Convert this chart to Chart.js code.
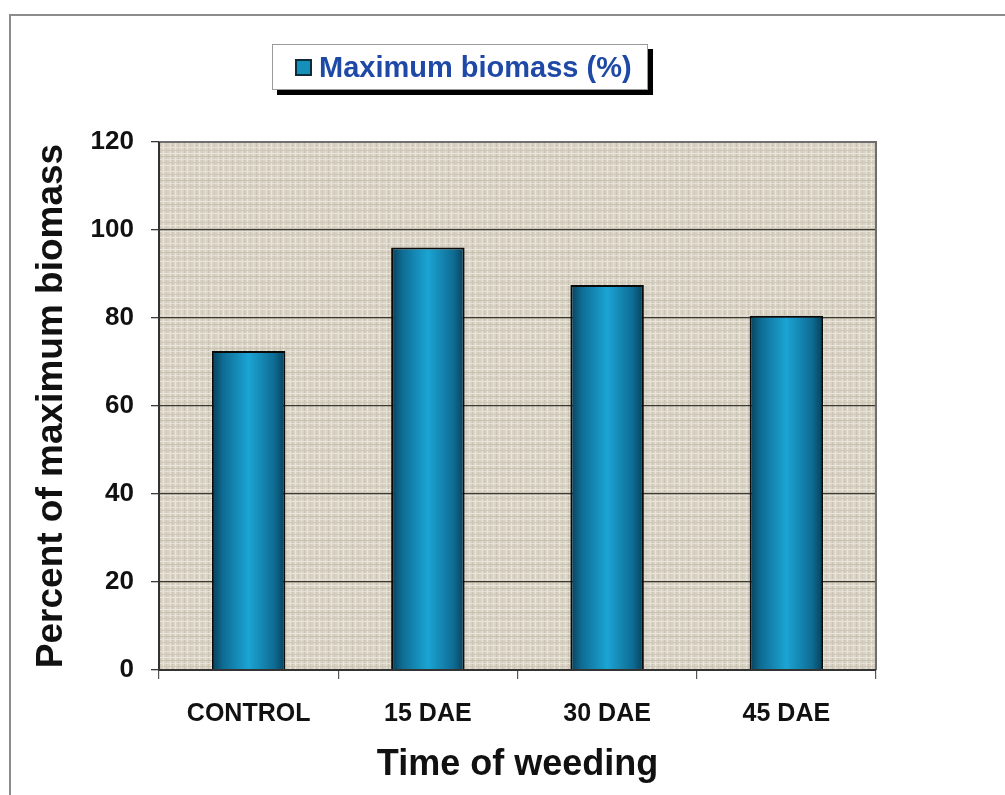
<!DOCTYPE html>
<html>
<head>
<meta charset="utf-8">
<script src="https://cdn.jsdelivr.net/npm/chart.js@4.4.1/dist/chart.umd.min.js"></script>
<style>
  html, body { margin: 0; padding: 0; background: #ffffff; }
  #wrap { position: relative; width: 1005px; height: 795px; overflow: hidden; }
  #frame { position: absolute; left: 9px; top: 14px; width: 1000px; height: 790px;
           border-left: 2px solid #8c8c8c; border-top: 2px solid #8c8c8c; }
  canvas { position: absolute; left: 0; top: 0; }
  #legend { position: absolute; left: 272px; top: 44px; width: 376px; height: 46px;
            background: #ffffff; border: 1px solid #9a9a9a; box-shadow: 5px 5px 0 #000000;
            font-family: "Liberation Sans", Arial, sans-serif; font-weight: bold; font-size: 29px;
            color: #1f49a6; display: flex; align-items: center; box-sizing: border-box; padding-left: 22px; }
  #legend .sw { width: 17px; height: 17px; background: #1490bb; border: 2px solid #0d2c3a;
                box-sizing: border-box; margin-right: 7px; }
</style>
</head>
<body>
<div id="wrap">
  <div id="frame"></div>
  <canvas id="c" width="1005" height="795"></canvas>
  <div id="legend"><span class="sw"></span><span id="legtext"></span></div>
</div>
<script>
const categories = ["CONTROL", "15 DAE", "30 DAE", "45 DAE"];
const seriesLabel = "Maximum biomass (%)";
const biomassValues = [72.5, 96, 87.5, 80.5];
const yTicks = [0, 20, 40, 60, 80, 100, 120];
const xTitle = "Time of weeding";
const yTitle = "Percent of maximum biomass";

document.getElementById('legtext').textContent = seriesLabel;

const FONT = '"Liberation Sans", Arial, sans-serif';
const CAT_PCT = 0.82, BAR_PCT = 0.5;

// textured plot background
function makeTexture(ctx) {
  const t = document.createElement('canvas');
  t.width = 24; t.height = 24;
  const g = t.getContext('2d');
  g.fillStyle = '#d9d3c6'; g.fillRect(0, 0, 24, 24);
  const light = ['#e6e1d6', '#eae6dc'], dark = ['#c9c2b2', '#cfc8b9'];
  [[2,0],[7,1],[13,0],[19,1]].forEach(([x,k]) => { g.fillStyle = light[k]; g.fillRect(x, 0, 1, 24); });
  [[4,0],[10,1],[16,0],[22,1]].forEach(([x,k]) => { g.fillStyle = dark[k]; g.fillRect(x, 0, 1, 24); });
  [[3,0],[9,1],[15,0],[21,1]].forEach(([y,k]) => { g.fillStyle = light[k]; g.fillRect(0, y, 24, 1); });
  [[6,1],[12,0],[18,1]].forEach(([y,k]) => { g.fillStyle = dark[k]; g.fillRect(0, y, 24, 1); });
  return ctx.createPattern(t, 'repeat');
}

const plotBg = {
  id: 'plotBg',
  beforeDraw(chart) {
    const { ctx, chartArea: a } = chart;
    ctx.save();
    ctx.fillStyle = makeTexture(ctx);
    ctx.fillRect(a.left, a.top, a.right - a.left, a.bottom - a.top);
    ctx.restore();
  },
  afterDraw(chart) {
    const { ctx, chartArea: a } = chart;
    ctx.save();
    ctx.strokeStyle = '#6e6e6e';
    ctx.lineWidth = 2;
    ctx.beginPath();
    ctx.moveTo(a.left, a.top); ctx.lineTo(a.right, a.top); ctx.lineTo(a.right, a.bottom);
    ctx.stroke();
    ctx.strokeStyle = '#333333';
    ctx.beginPath();
    ctx.moveTo(a.left, a.top); ctx.lineTo(a.left, a.bottom); ctx.lineTo(a.right, a.bottom);
    ctx.stroke();
    ctx.restore();
  }
};

function barGradient(context) {
  const chart = context.chart;
  const xs = chart.scales.x;
  if (!xs || !chart.chartArea) return '#1490bb';
  const cx = xs.getPixelForValue(context.dataIndex);
  const w = (xs.width / categories.length) * CAT_PCT * BAR_PCT;
  const g = chart.ctx.createLinearGradient(cx - w / 2, 0, cx + w / 2, 0);
  g.addColorStop(0, '#083f58');
  g.addColorStop(0.15, '#0e6c93');
  g.addColorStop(0.5, '#1ba4d4');
  g.addColorStop(0.85, '#0e6c93');
  g.addColorStop(1, '#083f58');
  return g;
}

new Chart(document.getElementById('c'), {
  type: 'bar',
  data: {
    labels: categories,
    datasets: [{
      label: seriesLabel,
      data: biomassValues,
      backgroundColor: barGradient,
      borderColor: '#0a0a0a',
      borderWidth: 2,
      categoryPercentage: CAT_PCT,
      barPercentage: BAR_PCT
    }]
  },
  options: {
    responsive: false,
    animation: false,
    layout: { padding: { left: 0, right: 129, top: 142, bottom: 0 } },
    plugins: { legend: { display: false }, tooltip: { enabled: false } },
    scales: {
      x: {
        offset: true,
        afterFit(s) { s.height = 125; },
        grid: { display: true, drawOnChartArea: false, drawTicks: true, tickLength: 9, color: '#555555', lineWidth: 1.2 },
        border: { display: false },
        ticks: { color: '#111111', padding: 20, font: { family: FONT, size: 25, weight: 'bold' }, maxRotation: 0 },
        title: { display: true, text: xTitle, color: '#111111', padding: { top: 0, bottom: 8 },
                 font: { family: FONT, size: 36, weight: 'bold' } }
      },
      y: {
        min: 0, max: 120,
        afterFit(s) { s.width = 159; },
        afterBuildTicks(s) { s.ticks = yTicks.map(v => ({ value: v })); },
        grid: { color: '#3b3a33', lineWidth: 1.3, tickLength: 8, drawTicks: true },
        border: { display: false },
        ticks: { color: '#111111', padding: 17, font: { family: FONT, size: 26, weight: 'bold' } },
        title: { display: true, text: yTitle, color: '#111111', padding: { top: 30, bottom: 0 },
                 font: { family: FONT, size: 37, weight: 'bold' } }
      }
    }
  },
  plugins: [plotBg]
});
</script>
</body>
</html>
